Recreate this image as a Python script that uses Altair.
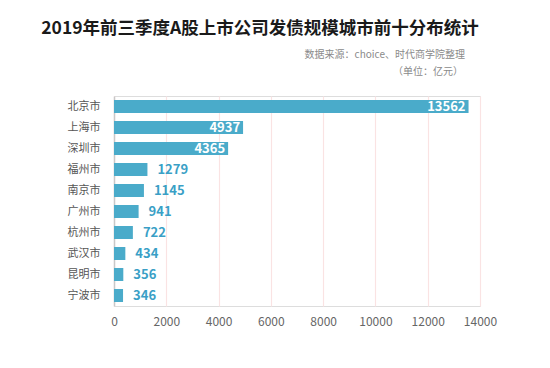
import altair as alt
import pandas as pd

cities = ["北京市", "上海市", "深圳市", "福州市", "南京市", "广州市", "杭州市", "武汉市", "昆明市", "宁波市"]
values = [13562, 4937, 4365, 1279, 1145, 941, 722, 434, 356, 346]
x_ticks = [0, 2000, 4000, 6000, 8000, 10000, 12000, 14000]

title_text = "2019年前三季度A股上市公司发债规模城市前十分布统计"
source_text = "数据来源：choice、时代商学院整理"
unit_text = "（单位：亿元）"

FONT = "Noto Sans CJK SC"
BAR = "#4aabca"

df = pd.DataFrame({"city": cities, "value": values})

x_enc = alt.X("value:Q", scale=alt.Scale(domain=[0, 14000], nice=False),
              axis=alt.Axis(values=x_ticks, format="d", labelOverlap=False, labelFlush=False,
                            title=None, grid=True, gridColor="#fae3e3",
                            gridWidth=1.2, domain=False, ticks=False, labelPadding=10,
                            labelFontSize=12, labelColor="#666666", labelFont=FONT))
y_enc = alt.Y("city:N", sort=cities,
              scale=alt.Scale(paddingInner=0.38, paddingOuter=0.19),
              axis=alt.Axis(title=None, ticks=False, domain=True, domainColor="#c8c8c8",
                            domainWidth=1.5, labelPadding=14, labelFontSize=11,
                            labelColor="#555555", labelFont=FONT, grid=False))

bars = alt.Chart(df).mark_bar(color=BAR).encode(x=x_enc, y=y_enc)

inside = alt.Chart(df).transform_filter("datum.value > 3000").mark_text(
    align="right", baseline="middle", dx=-3, fontSize=13, fontWeight="bold",
    color="white", font=FONT
).encode(x="value:Q", y=alt.Y("city:N", sort=cities), text=alt.Text("value:Q", format="d"))

outside = alt.Chart(df).transform_filter("datum.value <= 3000").mark_text(
    align="left", baseline="middle", dx=10, fontSize=13, fontWeight="bold",
    color="#3a9fc6", font=FONT
).encode(x="value:Q", y=alt.Y("city:N", sort=cities), text=alt.Text("value:Q", format="d"))

one = pd.DataFrame({"k": [0]})
title = alt.Chart(one).mark_text(align="center", baseline="middle", fontSize=17.5,
                                 fontWeight="bold", color="#1a1a1a", font=FONT).encode(
    x=alt.value(146), y=alt.value(-67), text=alt.value(title_text))
source = alt.Chart(one).mark_text(align="right", baseline="middle", fontSize=10,
                                  color="#8a8a8a", font=FONT).encode(
    x=alt.value(351), y=alt.value(-41), text=alt.value(source_text))
unit = alt.Chart(one).mark_text(align="right", baseline="middle", fontSize=10,
                                color="#8a8a8a", font=FONT).encode(
    x=alt.value(349), y=alt.value(-24), text=alt.value(unit_text))

chart = alt.layer(bars, inside, outside, title, source, unit).properties(
    width=366, height=210,
    autosize=alt.AutoSizeParams(type="none"),
    padding={"left": 106, "top": 88, "right": 60, "bottom": 40},
).configure_view(stroke=None).configure(background="white")

chart.save("out.html", embed_options={"renderer": "svg", "actions": False})
